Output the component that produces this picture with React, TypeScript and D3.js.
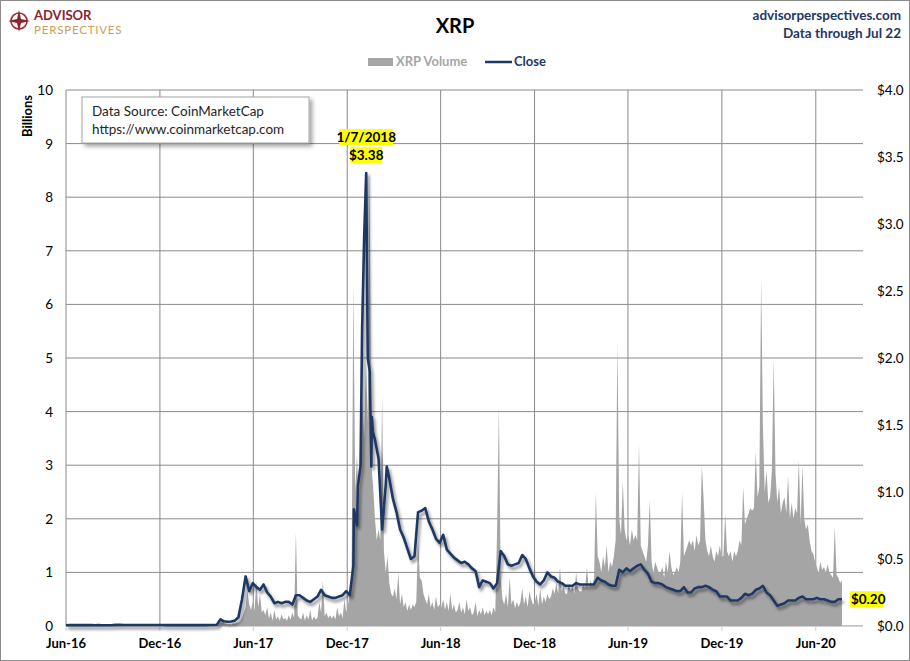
import React from 'react';
import * as d3 from 'd3';

// axis range of the time scale
const startDate = new Date(2016, 5, 1);
const endDate = new Date(2020, 8, 1);
const lastTick = new Date(2020, 5, 2);

// weekly XRP close (USD), first value = Jun 1 2016, one per 7 days to Jul 22 2020
const close2016 = [
  0.0060, 0.0062, 0.0066, 0.0064, 0.0065, 0.0064, 0.0063, 0.0062, 0.0061,
  0.0062, 0.0061, 0.0060, 0.0061, 0.0064, 0.0085, 0.0082, 0.0078, 0.0076,
  0.0076, 0.0075, 0.0074, 0.0075, 0.0080, 0.0078, 0.0077, 0.0079, 0.0076,
  0.0070, 0.0068, 0.0066, 0.0065,
];
const close2017 = [
  0.0065, 0.0066, 0.0064, 0.0063, 0.0064, 0.0063, 0.0062, 0.0064, 0.0063,
  0.0070, 0.0075, 0.0095, 0.050, 0.035, 0.032, 0.034, 0.040, 0.065, 0.20, 0.37, 0.26, 0.32,
  0.29, 0.27, 0.31, 0.25, 0.22, 0.17, 0.18, 0.17, 0.18, 0.18, 0.16, 0.23, 0.23,
  0.21, 0.19, 0.18, 0.20, 0.22, 0.27, 0.23, 0.22, 0.21, 0.21, 0.22, 0.23, 0.26,
  0.23, 0.45, 0.75, 1.20,
];
const close2018 = [
  2.90, 2.00, 1.19, 1.39, 1.25, 0.72, 1.05, 1.10, 0.95,
  0.85, 0.72, 0.66, 0.58, 0.50, 0.52, 0.85, 0.86, 0.88, 0.78, 0.72, 0.65, 0.62,
  0.68, 0.57, 0.54, 0.51, 0.49, 0.47, 0.48, 0.46, 0.43, 0.41, 0.29, 0.34, 0.33,
  0.32, 0.28, 0.32, 0.56, 0.52, 0.46, 0.45, 0.46, 0.47, 0.53, 0.50, 0.43, 0.37,
  0.33, 0.31, 0.34, 0.40,
];
const close2019 = [
  0.37, 0.36, 0.33, 0.32, 0.30, 0.30, 0.30, 0.32, 0.31,
  0.31, 0.31, 0.31, 0.31, 0.36, 0.34, 0.33, 0.31, 0.30, 0.30, 0.42, 0.40, 0.43,
  0.41, 0.43, 0.45, 0.46, 0.42, 0.39, 0.33, 0.32, 0.32, 0.31, 0.29, 0.28, 0.27,
  0.26, 0.26, 0.29, 0.25, 0.25, 0.28, 0.29, 0.29, 0.30, 0.29, 0.27, 0.26, 0.22,
  0.22, 0.22, 0.19, 0.19, 0.19,
];
const close2020 = [
  0.21, 0.24, 0.23, 0.24, 0.27, 0.28, 0.30, 0.25,
  0.23, 0.19, 0.15, 0.16, 0.17, 0.19, 0.19, 0.19, 0.21, 0.22, 0.20, 0.20, 0.20,
  0.21, 0.20, 0.20, 0.19, 0.18, 0.18, 0.20, 0.20,
];
// extra daily closes around the Dec 2017 / Jan 2018 spike
const spikeDates = ['2017-12-14', '2017-12-22', '2017-12-30', '2018-01-07', '2018-01-12', '2018-01-14', '2018-01-18', '2018-01-20', '2018-02-16'];
const spikeCloses = [0.87, 1.05, 2.21, 3.38, 1.95, 1.90, 1.56, 1.45, 1.19];
const peakDate = new Date(2018, 0, 7);
const peakClose = 3.38;
const lastClose = 0.2;

// XRP volume (billions), one value per 3.5 days from Jun 1 2016
const volume2016 = [
  0.003, 0.004, 0.003, 0.005, 0.004, 0.003, 0.004, 0.003, 0.004,
  0.003, 0.004, 0.003, 0.003, 0.004, 0.003, 0.003, 0.004, 0.003,
  0.003, 0.003, 0.004, 0.003, 0.003, 0.004, 0.003, 0.003, 0.004,
  0.005, 0.006, 0.004, 0.008, 0.005, 0.004, 0.005, 0.004,
  0.004, 0.003, 0.005, 0.004, 0.003, 0.004, 0.003, 0.004, 0.003,
  0.004, 0.005, 0.004, 0.003, 0.004, 0.005, 0.003, 0.004, 0.003,
  0.003, 0.004, 0.003, 0.003, 0.004, 0.003, 0.003, 0.004, 0.003,
];
const volume2017 = [
  0.003, 0.004, 0.003, 0.003, 0.004, 0.003, 0.003, 0.004,
  0.003, 0.004, 0.003, 0.003, 0.004, 0.003, 0.004, 0.003,
  0.004, 0.005, 0.006, 0.008, 0.010, 0.020, 0.030, 0.050, 0.080,
  0.12, 0.05, 0.04, 0.03, 0.04, 0.03, 0.05, 0.04, 0.06,
  0.06, 0.08, 0.15, 0.25, 0.35, 0.67, 0.40, 0.30, 0.45,
  0.30, 0.84, 0.35, 0.60, 0.25, 0.30, 0.20, 0.35,
  0.14, 0.25, 0.10, 0.30, 0.12, 0.18, 0.10, 0.22, 0.12,
  0.15, 0.10, 0.20, 0.12, 0.25, 0.15, 1.75, 0.20, 0.15,
  0.12, 0.25, 0.10, 0.20, 0.12, 0.30, 0.10, 0.18, 0.12,
  0.15, 0.45, 0.25, 0.86, 0.18, 0.25, 0.15, 0.20,
  0.14, 0.20, 0.12, 0.35, 0.18, 0.25, 0.15, 0.50, 0.25,
  0.40, 0.60, 0.90, 6.4, 2.5, 3.2, 2.2, 3.8, 4.2,
];
const volume2018 = [
  3.5, 5.0, 3.8, 8.5, 3.0, 2.6, 2.0, 1.6, 1.8,
  1.6, 4.3, 1.4, 1.0, 1.3, 0.80, 0.60, 0.55,
  0.70, 0.50, 1.0, 0.40, 0.60, 0.35, 0.45, 0.28, 0.40,
  0.30, 0.40, 0.35, 0.45, 1.6, 0.90, 0.85, 0.60,
  0.50, 0.40, 0.60, 0.35, 0.45, 0.30, 0.55, 0.35, 0.40,
  0.35, 0.50, 0.30, 0.45, 0.28, 0.60, 0.30, 0.40, 0.25,
  0.30, 0.45, 0.25, 0.35, 0.22, 0.50, 0.28, 0.35, 0.20,
  0.25, 0.45, 0.18, 0.30, 0.22, 0.35, 0.20, 0.28,
  0.22, 0.30, 0.20, 0.35, 0.25, 1.8, 4.1, 0.90, 0.50,
  0.40, 0.60, 0.35, 0.90, 0.40, 0.50, 0.33, 0.45, 0.35,
  0.45, 0.70, 0.40, 0.55, 0.35, 0.65, 0.50, 0.40,
  0.45, 0.60, 0.38, 0.70, 0.40, 0.55, 0.45, 0.60, 0.50,
];
const volume2019 = [
  0.55, 0.70, 0.60, 0.80, 0.60, 1.1, 0.65, 0.75, 0.60,
  0.60, 0.80, 0.65, 0.75, 0.60, 1.0, 0.70, 0.65,
  0.65, 0.80, 0.70, 1.1, 0.70, 0.85, 0.75, 0.90, 2.5,
  1.3, 1.2, 1.0, 1.3, 1.1, 1.5, 1.0, 1.2, 1.1,
  1.3, 1.6, 5.3, 2.0, 1.7, 2.7, 1.8, 1.6,
  1.7, 1.5, 1.8, 1.6, 1.7, 1.6, 3.4, 1.5, 1.4,
  1.3, 1.2, 1.5, 2.35, 1.2, 1.0, 1.2, 1.1, 1.0,
  1.0, 1.1, 0.90, 1.2, 1.0, 1.4, 1.1, 0.95, 1.0,
  1.1, 1.0, 1.2, 2.5, 1.3, 1.4, 1.5, 1.6,
  1.5, 1.6, 1.4, 1.7, 1.5, 1.6, 3.0, 2.35, 1.6,
  1.4, 1.3, 1.5, 1.3, 1.2, 1.4, 1.3, 1.5, 1.3,
  1.3, 2.1, 1.4, 1.3, 1.4, 1.2, 1.4, 1.3,
];
const volume2020 = [
  1.4, 1.6, 1.5, 2.6, 1.9, 2.0, 2.1, 2.2, 2.15,
  2.2, 3.25, 2.4, 2.6, 6.5, 3.7, 2.5, 2.9, 2.3,
  2.4, 2.9, 5.0, 2.85, 2.3, 2.6, 2.1, 2.3, 2.4,
  2.1, 2.8, 2.0, 2.3, 2.0, 2.2, 2.1, 3.1,
  1.9, 3.0, 2.0, 1.8, 1.9, 1.6, 1.4, 1.35, 1.2,
  1.1, 1.0, 1.2, 1.05, 1.1, 1.0, 1.15, 1.0, 0.95,
  0.9, 1.85, 0.95, 0.9, 0.8, 0.85,
];

const volumeTicks = [0, 1, 2, 3, 4, 5, 6, 7, 8, 9, 10];
const priceTicks = [0, 0.5, 1, 1.5, 2, 2.5, 3, 3.5, 4];

const DAY = 86400000;
const font = "Lato, 'Open Sans', sans-serif";
const navy = '#1f3864';
const grid = '#8a8a8a';
const volGrey = '#a5a5a5';

export default function App() {
  const width = 910;
  const height = 661;
  const left = 66, right = 863, top = 90, bottom = 626;

  const x = d3.scaleTime().domain([startDate, endDate]).range([left, right]);
  const yVol = d3.scaleLinear().domain([0, 10]).range([bottom, top]);
  const yPrice = d3.scaleLinear().domain([0, 4]).range([bottom, top]);

  const volume = [...volume2016, ...volume2017, ...volume2018, ...volume2019, ...volume2020]
    .map((v, j) => ({ date: new Date(startDate.getTime() + j * 3.5 * DAY), v }));

  const closes = [...close2016, ...close2017, ...close2018, ...close2019, ...close2020]
    .map((v, i) => ({ date: new Date(startDate.getTime() + i * 7 * DAY), v }));
  const parse = d3.timeParse('%Y-%m-%d');
  spikeDates.forEach((s, k) => closes.push({ date: parse(s)!, v: spikeCloses[k] }));
  closes.sort((a, b) => a.date.getTime() - b.date.getTime());
  const last = closes[closes.length - 1];

  const area = d3.area<{ date: Date; v: number }>()
    .x(d => x(d.date))
    .y0(bottom)
    .y1(d => yVol(d.v));
  const line = d3.line<{ date: Date; v: number }>()
    .x(d => x(d.date))
    .y(d => yPrice(d.v));

  const xTicks = d3.timeMonth.range(startDate, lastTick, 6);
  const fmt = d3.timeFormat('%b-%y');

  const px = x(peakDate);
  const py = yPrice(peakClose);

  return (
    <svg width={width} height={height} style={{ position: 'absolute', left: 0, top: 0 }} fontFamily={font}>
      <defs>
        <filter id="shadow" x="-10%" y="-10%" width="130%" height="130%">
          <feDropShadow dx="2" dy="3" stdDeviation="1.8" floodColor="#000" floodOpacity="0.45" />
        </filter>
        <filter id="boxShadow" x="-10%" y="-20%" width="130%" height="160%">
          <feDropShadow dx="3" dy="3" stdDeviation="2" floodColor="#000" floodOpacity="0.35" />
        </filter>
      </defs>
      <rect x={0.5} y={0.5} width={width - 1} height={height - 1} fill="#fff" stroke="#8c8c8c" />

      {/* logo */}
      <g transform="translate(19,21)">
        <circle r={8} fill="none" stroke="#9b2c35" strokeWidth={1.6} />
        <path d="M0,-11 L2,-2 L11,0 L2,2 L0,11 L-2,2 L-11,0 L-2,-2 Z" fill="#8a2432" />
      </g>
      <text x={34} y={19.5} fontSize={13} fontWeight="bold" fill="#8a2432">ADVISOR</text>
      <text x={34} y={34} fontSize={11.5} fill="#c4a15a" letterSpacing="0.8">PERSPECTIVES</text>

      <text x={455} y={33} fontSize={20} fontWeight="bold" textAnchor="middle" fill="#000">XRP</text>
      <text x={901} y={20} fontSize={13.5} fontWeight="bold" textAnchor="end" fill={navy}>advisorperspectives.com</text>
      <text x={901} y={38} fontSize={13.5} fontWeight="bold" textAnchor="end" fill={navy}>Data through Jul 22</text>

      {/* legend */}
      <rect x={368} y={58} width={25} height={8} fill={volGrey} />
      <text x={396} y={66} fontSize={13} fontWeight="bold" fill="#a6a6a6">XRP Volume</text>
      <line x1={485} x2={512} y1={62} y2={62} stroke={navy} strokeWidth={2.5} />
      <text x={514} y={66} fontSize={13} fontWeight="bold" fill={navy}>Close</text>

      {/* grid */}
      {volumeTicks.map(t => (
        <line key={'h' + t} x1={left} x2={right} y1={yVol(t)} y2={yVol(t)} stroke={grid} strokeWidth={1} />
      ))}
      {xTicks.map(t => (
        <line key={'v' + t.getTime()} x1={x(t)} x2={x(t)} y1={top} y2={bottom} stroke={grid} strokeWidth={1} />
      ))}

      {/* volume area */}
      <path d={area(volume) || ''} fill={volGrey} />

      {/* x axis */}
      <line x1={left} x2={right} y1={bottom + 0.5} y2={bottom + 0.5} stroke="#d0d0d0" />
      {xTicks.map(t => (
        <g key={'t' + t.getTime()}>
          <line x1={x(t)} x2={x(t)} y1={bottom} y2={bottom + 5} stroke="#d0d0d0" />
          <text x={x(t)} y={648} fontSize={13} fontWeight="bold" textAnchor="middle" fill="#000">{fmt(t)}</text>
        </g>
      ))}

      {/* left axis */}
      {volumeTicks.map(t => (
        <text key={'l' + t} x={53} y={yVol(t) + 5} fontSize={13.5} textAnchor="end" fill="#000">{t}</text>
      ))}
      <text transform="translate(32,116) rotate(-90)" fontSize={13} fontWeight="bold" textAnchor="middle" fill="#000">Billions</text>

      {/* right axis */}
      {priceTicks.map(t => (
        <text key={'r' + t} x={877} y={yPrice(t) + 5} fontSize={13.5} fill="#000">{d3.format('$.1f')(t)}</text>
      ))}

      {/* close line */}
      <path d={line(closes) || ''} fill="none" stroke={navy} strokeWidth={2.6} strokeLinejoin="round" filter="url(#shadow)" />

      {/* source box */}
      <rect x={82} y={97} width={227} height={46} fill="#fff" stroke="#a6a6a6" filter="url(#boxShadow)" />
      <text x={92} y={116} fontSize={13.5} fill="#262626">Data Source: CoinMarketCap</text>
      <text x={92} y={134} fontSize={13.5} fill="#262626">https://www.coinmarketcap.com</text>

      {/* peak annotation */}
      <rect x={px - 27} y={py - 44} width={54} height={16} fill="#ffff00" />
      <text x={px} y={py - 31} fontSize={13.5} fontWeight="bold" textAnchor="middle" fill="#000">1/7/2018</text>
      <rect x={px - 16} y={py - 26} width={32} height={16} fill="#ffff00" />
      <text x={px} y={py - 13} fontSize={13.5} fontWeight="bold" textAnchor="middle" fill="#000">{d3.format('$.2f')(peakClose)}</text>

      {/* last value label */}
      <rect x={x(last.date) + 8} y={yPrice(lastClose) - 8} width={33} height={16} fill="#ffff00" />
      <text x={x(last.date) + 9} y={yPrice(lastClose) + 5} fontSize={13.5} fontWeight="bold" fill="#000">{d3.format('$.2f')(lastClose)}</text>
    </svg>
  );
}
